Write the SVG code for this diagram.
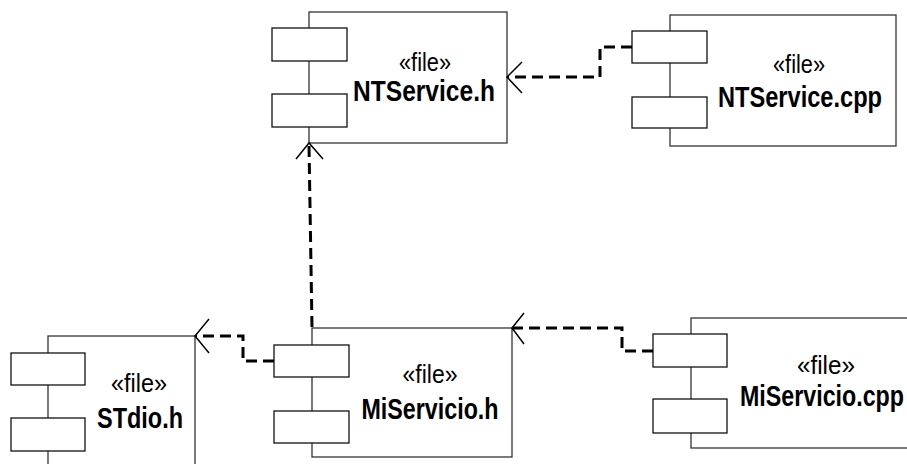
<svg xmlns="http://www.w3.org/2000/svg" width="907" height="464" viewBox="0 0 907 464">
  <style>
    .body { fill: #fff; stroke: #333; stroke-width: 1.3; }
    .port { fill: #fff; stroke: #111; stroke-width: 1.3; }
    .stereo { font-family: "Liberation Sans", Arial, sans-serif; font-size: 25px; fill: #000; text-anchor: middle; }
    .name { font-family: "Liberation Sans", Arial, sans-serif; font-size: 30px; font-weight: bold; fill: #000; text-anchor: middle; }
    .dep { fill: none; stroke: #000; stroke-width: 3; stroke-dasharray: 11 6; }
    .head { fill: none; stroke: #000; stroke-width: 1.5; }
  </style>
  <rect width="907" height="464" fill="#fff"/>

  <g id="NTService_h">
    <rect class="body" x="309" y="12" width="198" height="131"/>
    <rect class="port" x="272" y="28" width="75" height="33"/>
    <rect class="port" x="272" y="94" width="75" height="33"/>
    <text class="stereo" x="425" y="71" textLength="52" lengthAdjust="spacingAndGlyphs">«file»</text>
    <text class="name" x="424" y="101" textLength="142" lengthAdjust="spacingAndGlyphs">NTService.h</text>
  </g>

  <g id="NTService_cpp">
    <rect class="body" x="670" y="15" width="226" height="131"/>
    <rect class="port" x="632" y="31" width="75" height="32"/>
    <rect class="port" x="632" y="97" width="75" height="31"/>
    <text class="stereo" x="799" y="73" textLength="52" lengthAdjust="spacingAndGlyphs">«file»</text>
    <text class="name" x="800" y="107" textLength="164" lengthAdjust="spacingAndGlyphs">NTService.cpp</text>
  </g>

  <g id="STdio_h">
    <rect class="body" x="48" y="336" width="147" height="140"/>
    <rect class="port" x="11" y="353" width="74" height="32"/>
    <rect class="port" x="11" y="418" width="74" height="33"/>
    <text class="stereo" x="139" y="392" textLength="56" lengthAdjust="spacingAndGlyphs">«file»</text>
    <text class="name" x="140" y="428" textLength="86" lengthAdjust="spacingAndGlyphs">STdio.h</text>
  </g>

  <g id="MiServicio_h">
    <rect class="body" x="312" y="328" width="200" height="129"/>
    <rect class="port" x="274" y="345" width="75" height="32"/>
    <rect class="port" x="274" y="411" width="75" height="32"/>
    <text class="stereo" x="430" y="383" textLength="55" lengthAdjust="spacingAndGlyphs">«file»</text>
    <text class="name" x="430" y="419" textLength="137" lengthAdjust="spacingAndGlyphs">MiServicio.h</text>
  </g>

  <g id="MiServicio_cpp">
    <rect class="body" x="691" y="318" width="240" height="130"/>
    <rect class="port" x="653" y="334" width="74" height="33"/>
    <rect class="port" x="653" y="399" width="74" height="34"/>
    <text class="stereo" x="826" y="374" textLength="58" lengthAdjust="spacingAndGlyphs">«file»</text>
    <text class="name" x="822" y="406" textLength="164" lengthAdjust="spacingAndGlyphs">MiServicio.cpp</text>
  </g>

  <g id="connectors">
    <!-- NTService.cpp depends on NTService.h -->
    <polyline class="dep" points="632,47 600,47 600,77 508,77"/>
    <polyline class="head" points="522,62 507,77 522,93"/>
    <!-- MiServicio.h depends on NTService.h -->
    <line class="dep" x1="312" y1="327" x2="309" y2="145"/>
    <polyline class="head" points="296,159 309,143 323,159"/>
    <!-- MiServicio.cpp depends on MiServicio.h -->
    <polyline class="dep" points="653,351 622,351 622,328 513,328"/>
    <polyline class="head" points="524,313 512,328 524,344"/>
    <!-- MiServicio.h depends on STdio.h -->
    <polyline class="dep" points="274,361 243,361 243,336 196,336"/>
    <polyline class="head" points="209,319 195,336 209,353"/>
  </g>
</svg>
